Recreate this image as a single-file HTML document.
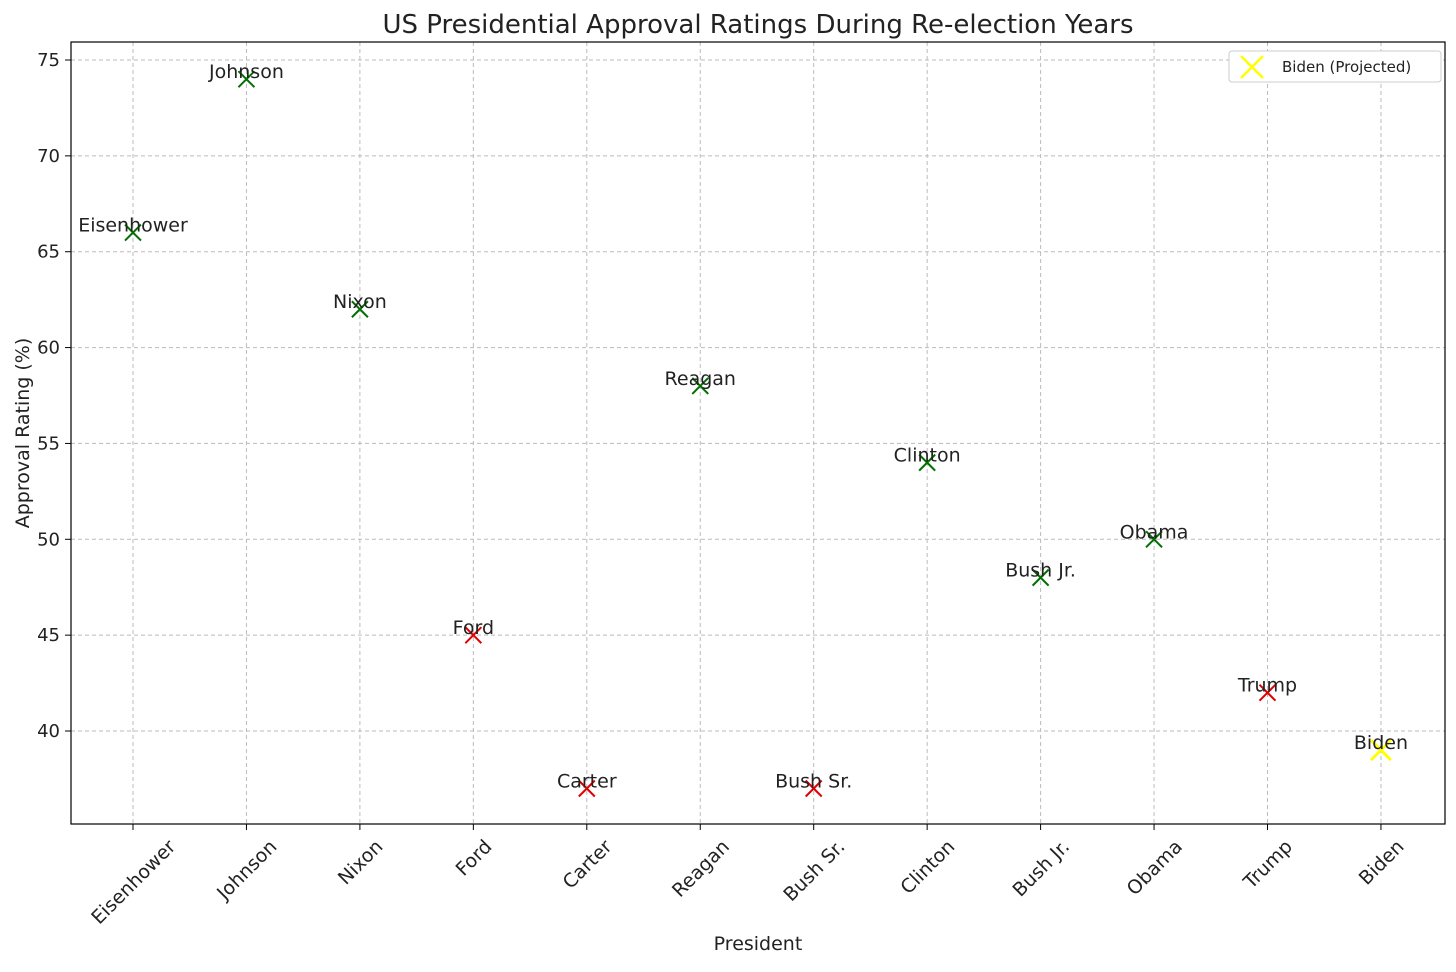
<!DOCTYPE html>
<html><head><meta charset="utf-8"><style>
body{margin:0;background:#fff;}
svg{font-family:"DejaVu Sans","Liberation Sans",sans-serif;}
</style></head><body>
<svg id="chart" width="1456" height="967" viewBox="0 0 1456 967">
<rect x="0" y="0" width="1456" height="967" fill="#fff"/>
<text x="758" y="33" font-size="26" text-anchor="middle" fill="#222">US Presidential Approval Ratings During Re-election Years</text>
<g id="grid"></g>
<g id="marks"></g>
<rect x="71" y="42" width="1374" height="782" fill="none" stroke="#000" stroke-width="1.2"/>
<text x="758" y="950" font-size="19" text-anchor="middle" fill="#222">President</text>
<text transform="translate(29,433) rotate(-90)" font-size="19" text-anchor="middle" fill="#222">Approval Rating (%)</text>
<g>
<rect x="1229" y="51" width="212" height="31" rx="3" fill="#fff" stroke="#ccc"/>
<path d="M1241 56 L1263 78 M1263 56 L1241 78" stroke="#ffff00" stroke-width="2.5"/>
<text x="1282" y="72" font-size="15" fill="#222">Biden (Projected)</text>
</g>
</svg>
<script>
const presidents=["Eisenhower","Johnson","Nixon","Ford","Carter","Reagan","Bush Sr.","Clinton","Bush Jr.","Obama","Trump","Biden"];
const ratings=[66,74,62,45,37,58,37,54,48,50,42,39];
const outcomes=["win","win","win","loss","loss","win","loss","win","win","win","loss","projected"];
const yTicks=[40,45,50,55,60,65,70,75];
const NS="http://www.w3.org/2000/svg";
const X0=133,XSTEP=113.45,Y40=731,YPER=19.171;
function xs(i){return X0+i*XSTEP;}
function ys(v){return Y40-(v-40)*YPER;}
const grid=document.getElementById('grid'),marks=document.getElementById('marks');
function mk(tag,attrs,parent){const e=document.createElementNS(NS,tag);for(const k in attrs)e.setAttribute(k,attrs[k]);parent.appendChild(e);return e;}
yTicks.forEach(t=>{const y=ys(t);
 const g=mk('line',{x1:71,x2:1445,y1:y,y2:y,stroke:'#bbb','stroke-dasharray':'4,3','stroke-width':1},grid);
 
 
 mk('line',{x1:65,x2:71,y1:y,y2:y,stroke:'#000'},grid);
 const tx=mk('text',{x:60,y:y+6,'font-size':18,'text-anchor':'end',fill:'#222'},grid);tx.textContent=t;
 
 
});
presidents.forEach((p,i)=>{const x=xs(i);
 const g=mk('line',{x1:x,x2:x,y1:42,y2:824,stroke:'#bbb','stroke-dasharray':'4,3','stroke-width':1},grid);
 
 
 mk('line',{x1:x,x2:x,y1:824,y2:830,stroke:'#000'},grid);
 const tx=mk('text',{'font-size':19,'text-anchor':'middle',fill:'#222'},grid);tx.textContent=p;
 
 
 const L=tx.getComputedTextLength();
 const cy=836+(L+19)*0.354;
 tx.setAttribute('transform',`translate(${x},${cy}) rotate(-45) translate(0,7)`);
 const y=ys(ratings[i]);const o=outcomes[i];
 const col=o==='win'?'#007000':o==='loss'?'#e00000':'#ffff00';const s=o==='projected'?10:8;
 const m=mk('path',{d:`M${x-s} ${y-s} L${x+s} ${y+s} M${x+s} ${y-s} L${x-s} ${y+s}`,stroke:col,'stroke-width':o==='projected'?2.8:2},marks);
 
 
 const l=mk('text',{x:x,y:y-1,'font-size':19,'text-anchor':'middle',fill:'#222'},marks);l.textContent=p;
 
 
});
</script>
</body></html>
